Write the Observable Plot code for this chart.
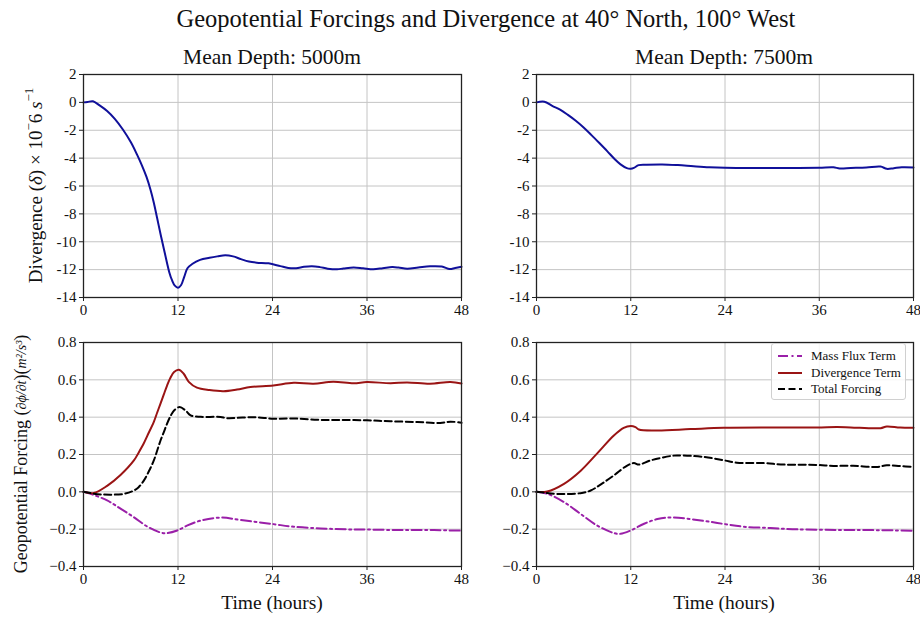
<!DOCTYPE html>
<html><head><meta charset="utf-8">
<script src="https://cdn.jsdelivr.net/npm/d3@7"></script>
<script src="https://cdn.jsdelivr.net/npm/@observablehq/plot@0.6"></script>
<style>
body{margin:0;background:#fff;}
#root{position:relative;width:920px;height:617px;font-family:"Liberation Serif",serif;color:#111;}
#root svg text{font-family:"Liberation Serif",serif !important;}
.abs{position:absolute;}
.ttl{position:absolute;white-space:nowrap;transform:translate(-50%,-50%);}
</style></head><body><div id="root"></div>
<script>
// ---------- text ----------
const chartTitle = "Geopotential Forcings and Divergence at 40° North, 100° West";
const panelTitles = ["Mean Depth: 5000m", "Mean Depth: 7500m"];
const xLabel = "Time (hours)";
const seriesNames = ["Mass Flux Term", "Divergence Term", "Total Forcing"];

// ---------- ticks ----------
const hourTicks = [0, 12, 24, 36, 48];
const divTicks = [2, 0, -2, -4, -6, -8, -10, -12, -14];
const forceTicks = [0.8, 0.6, 0.4, 0.2, 0.0, -0.2, -0.4];

// ---------- data: [hour, value] ----------
const div5000 = [[0,0],[0.5,0.03],[1.2,0.08],[2,-0.2],[3,-0.62],[4,-1.2],[5,-1.95],[6,-2.85],[6.8,-3.75],[7.4,-4.5],[8.0,-5.35],[8.5,-6.25],[8.93,-7.2],[9.35,-8.3],[9.78,-9.44],[10.2,-10.5],[10.6,-11.5],[10.9,-12.2],[11.24,-12.76],[11.6,-13.15],[12,-13.3],[12.4,-13.1],[12.8,-12.5],[13.2,-11.9],[13.8,-11.6],[14.8,-11.3],[16,-11.15],[17,-11.05],[18,-10.97],[19,-11.05],[20,-11.25],[21,-11.42],[22,-11.5],[23.5,-11.55],[25,-11.75],[26,-11.88],[27,-11.9],[28,-11.8],[29,-11.76],[30,-11.82],[31,-11.93],[32.2,-11.98],[33,-11.92],[34.3,-11.84],[35.5,-11.9],[36.8,-11.97],[38,-11.9],[39.2,-11.82],[40,-11.85],[41.1,-11.93],[42.5,-11.85],[44,-11.76],[45.5,-11.78],[46.5,-11.96],[47.2,-11.88],[48,-11.8]];
const div7500 = [[0,0],[1,0.05],[2,-0.25],[3,-0.52],[4,-0.9],[5,-1.32],[6,-1.8],[7,-2.35],[8,-2.92],[9,-3.5],[10,-4.1],[10.7,-4.45],[11.5,-4.72],[12,-4.76],[12.4,-4.7],[13,-4.5],[14,-4.47],[16,-4.45],[18,-4.5],[20,-4.58],[22,-4.65],[24,-4.69],[28,-4.71],[32,-4.71],[36,-4.69],[37.8,-4.66],[38.6,-4.74],[40,-4.71],[42,-4.67],[43.8,-4.6],[44.6,-4.77],[45.5,-4.72],[46.5,-4.66],[48,-4.67]];

const mass5000 = [[0,0],[0.9,-0.011],[3,-0.046],[4.7,-0.09],[6.4,-0.136],[8.1,-0.186],[9.8,-0.218],[10.6,-0.221],[11.9,-0.207],[13.2,-0.18],[14.9,-0.154],[17.4,-0.138],[20,-0.151],[24.1,-0.173],[26.7,-0.187],[30.1,-0.196],[33.5,-0.201],[36,-0.202],[40.3,-0.205],[44.5,-0.205],[48,-0.208]];
const divterm5000 = [[0,0],[1.3,-0.006],[3,0.032],[4.7,0.09],[6.4,0.168],[7,0.21],[7.66,0.26],[8.1,0.30],[8.93,0.375],[9.36,0.425],[9.8,0.475],[10.2,0.522],[10.6,0.568],[11,0.608],[11.5,0.642],[12.1,0.654],[12.7,0.634],[13.4,0.588],[14.4,0.558],[16,0.545],[17.8,0.539],[19.5,0.548],[21.2,0.561],[24.1,0.57],[26.7,0.584],[29.2,0.579],[31.7,0.59],[34.3,0.582],[36,0.588],[39,0.582],[41.1,0.586],[44,0.579],[46.6,0.588],[48,0.58]];
const total5000 = [[0,0],[0.9,-0.007],[2.2,-0.014],[5.1,-0.011],[6.4,0.007],[7,0.025],[7.66,0.06],[8.3,0.11],[8.93,0.168],[9.35,0.22],[9.78,0.275],[10.2,0.32],[10.6,0.364],[11.1,0.41],[11.5,0.436],[12.2,0.454],[12.95,0.436],[13.6,0.41],[14.9,0.402],[17.4,0.401],[18.2,0.395],[21.6,0.40],[24.1,0.392],[26.7,0.393],[29.7,0.386],[32.6,0.385],[36,0.383],[39,0.378],[42.4,0.374],[45.3,0.369],[46.6,0.376],[48,0.37]];

const mass7500 = [[0,0],[1.4,-0.011],[3.5,-0.055],[5.6,-0.118],[7.7,-0.18],[9.85,-0.221],[10.7,-0.225],[12,-0.207],[13.7,-0.171],[15.4,-0.146],[17.3,-0.137],[21.3,-0.156],[23.85,-0.172],[26.4,-0.187],[29.8,-0.194],[33.2,-0.201],[38.3,-0.204],[42.6,-0.205],[48,-0.208]];
const divterm7500 = [[0,0],[1.36,0.002],[3.5,0.043],[5.6,0.112],[7.7,0.205],[9.85,0.302],[11.1,0.343],[12,0.353],[12.6,0.347],[13.03,0.334],[15.4,0.329],[19.6,0.336],[23.85,0.343],[29.8,0.345],[35.7,0.345],[38.3,0.347],[40,0.345],[43.8,0.341],[44.6,0.35],[46.3,0.344],[48,0.343]];
const total7500 = [[0,0],[0.9,-0.004],[2.6,-0.011],[5.6,-0.007],[6.9,0.007],[8.15,0.039],[9.85,0.088],[11.55,0.141],[12.4,0.154],[13.03,0.146],[14.5,0.168],[17.1,0.192],[17.9,0.195],[21.3,0.187],[23.85,0.169],[25.5,0.156],[28.9,0.154],[31.5,0.146],[35.7,0.144],[37.8,0.139],[40.3,0.14],[43.3,0.133],[44.6,0.142],[46.3,0.138],[48,0.133]];

// ---------- styles ----------
const FONT = "Liberation Serif, serif";
const gridColor = "#c4c4c4";
const styles = {
  divergence: {stroke: "#10109a", strokeWidth: 2},
  mass: {stroke: "#9a1fa8", strokeWidth: 2, strokeDasharray: "10,3.5,2,3.5"},
  divterm: {stroke: "#9a1414", strokeWidth: 2},
  total: {stroke: "#000", strokeWidth: 2, strokeDasharray: "7,3.5"}
};

const root = document.getElementById("root");

function addDiv(cls, text, x, y, size) {
  const d = document.createElement("div");
  d.className = cls; d.textContent = text;
  d.style.left = x + "px"; d.style.top = y + "px"; d.style.fontSize = size + "px";
  root.appendChild(d); return d;
}

const toRows = arr => arr.map(([t, v]) => ({t, v}));
const fmtHyphen = d => d < 0 ? "-" + Math.abs(d) : String(d);
const fmtMinus = d3.format(".1f");

function panel({left, top, width, height, margins, domain, ticks, fmt, series}) {
  const marks = [
    Plot.gridX(hourTicks, {stroke: gridColor, strokeOpacity: 1, strokeWidth: 1}),
    Plot.gridY(ticks, {stroke: gridColor, strokeOpacity: 1, strokeWidth: 1}),
    ...series.map(([data, st]) => Plot.line(toRows(data), {x: "t", y: "v", curve: "catmull-rom", ...st})),
    Plot.frame({stroke: "#222", strokeWidth: 1.3}),
    Plot.axisX(hourTicks, {tickSize: 4, tickPadding: 3, fontSize: 15, fontFamily: FONT, label: null, stroke: "#222", fill: "#111"}),
    Plot.axisY(ticks, {tickSize: 4, tickPadding: 3, fontSize: 15, fontFamily: FONT, label: null, tickFormat: fmt, stroke: "#222", fill: "#111"})
  ];
  const svg = Plot.plot({
    width, height,
    marginLeft: margins[0], marginRight: margins[1], marginTop: margins[2], marginBottom: margins[3],
    x: {domain: [0, 48]},
    y: {domain},
    style: {fontFamily: FONT, fontSize: "15px", background: "transparent", color: "#111"},
    marks
  });
  svg.style.position = "absolute";
  svg.style.left = left + "px";
  svg.style.top = top + "px";
  root.appendChild(svg);
  return svg;
}

// Title and subtitles
addDiv("ttl", chartTitle, 486, 19, 24.5);
addDiv("ttl", panelTitles[0], 272, 57, 21.5);
addDiv("ttl", panelTitles[1], 724, 57, 21.5);

// Top panels
const tl = panel({left: 0, top: 62, width: 470, height: 258, margins: [83, 9, 12, 23], domain: [-14, 2], ticks: divTicks, fmt: fmtHyphen, series: [[div5000, styles.divergence]]});
panel({left: 470, top: 62, width: 450, height: 258, margins: [66, 7, 12, 23], domain: [-14, 2], ticks: divTicks, fmt: fmtHyphen, series: [[div7500, styles.divergence]]});

// Bottom panels
const bl = panel({left: 0, top: 320, width: 470, height: 297, margins: [83, 9, 22, 51], domain: [-0.4, 0.8], ticks: forceTicks, fmt: fmtMinus, series: [[mass5000, styles.mass], [divterm5000, styles.divterm], [total5000, styles.total]]});
panel({left: 470, top: 320, width: 450, height: 297, margins: [66, 7, 22, 51], domain: [-0.4, 0.8], ticks: forceTicks, fmt: fmtMinus, series: [[mass7500, styles.mass], [divterm7500, styles.divterm], [total7500, styles.total]]});

// x labels
addDiv("ttl", xLabel, 272, 603, 19.5);
addDiv("ttl", xLabel, 724, 603, 19.5);

// y labels
{
  const t = d3.select(tl).append("text")
    .attr("transform", `translate(38,${(74 + 297) / 2 - 62}) rotate(-90)`)
    .attr("text-anchor", "middle").attr("dominant-baseline", "middle")
    .attr("font-size", 19).attr("fill", "#111").attr("font-family", FONT);
  t.append("tspan").text("Divergence (");
  t.append("tspan").attr("font-style", "italic").text("δ");
  t.append("tspan").text(") × 10");
  t.append("tspan").attr("font-size", 13).attr("dy", -8).text("−");
  t.append("tspan").attr("dy", 8).text("6 ");
  t.append("tspan").attr("font-style", "italic").text("s");
  t.append("tspan").attr("font-size", 13).attr("dy", -8).text("−1");
}
{
  const t = d3.select(bl).append("text")
    .attr("transform", `translate(23,${(342 + 566) / 2 - 320}) rotate(-90)`)
    .attr("text-anchor", "middle").attr("dominant-baseline", "middle")
    .attr("font-size", 18).attr("fill", "#111").attr("font-family", FONT);
  t.append("tspan").text("Geopotential Forcing (");
  t.append("tspan").attr("font-style", "italic").attr("font-size", 14).text("∂ϕ/∂t");
  t.append("tspan").text(")(");
  t.append("tspan").attr("font-style", "italic").attr("font-size", 14).text("m²/s³");
  t.append("tspan").text(")");
}

// Legend
{
  const lg = document.createElement("div");
  lg.className = "abs";
  Object.assign(lg.style, {left: "771px", top: "343px", width: "135px", height: "57px", border: "1px solid #d0d0d0", borderRadius: "3px", background: "rgba(255,255,255,0.85)", boxSizing: "border-box", fontSize: "13px"});
  const keys = [styles.mass, styles.divterm, styles.total];
  seriesNames.forEach((name, i) => {
    const row = document.createElement("div");
    Object.assign(row.style, {position: "absolute", left: "5px", top: (5 + i * 16.5) + "px", height: "14px", display: "flex", alignItems: "center", whiteSpace: "nowrap"});
    const st = keys[i];
    row.innerHTML = `<svg width="26" height="10" style="margin-right:8px"><line x1="1" x2="25" y1="5" y2="5" stroke="${st.stroke}" stroke-width="${st.strokeWidth}" ${st.strokeDasharray ? `stroke-dasharray="${st.strokeDasharray}"` : ""}/></svg>`;
    const sp = document.createElement("span"); sp.textContent = name; row.appendChild(sp);
    lg.appendChild(row);
  });
  root.appendChild(lg);
}
</script></body></html>
